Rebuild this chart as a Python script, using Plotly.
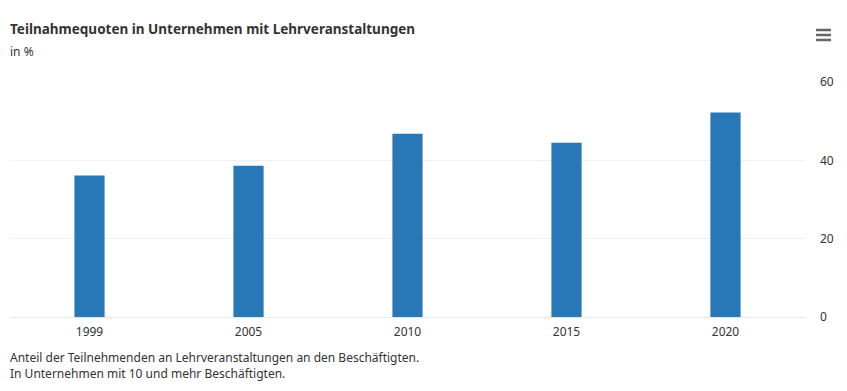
import plotly.graph_objects as go

years = ["1999", "2005", "2010", "2015", "2020"]
quotes = [36.1, 38.6, 46.8, 44.5, 52.2]
y_ticks = [0, 20, 40, 60]

title_text = "Teilnahmequoten in Unternehmen mit Lehrveranstaltungen"
subtitle_text = "in %"
caption_lines = [
    "Anteil der Teilnehmenden an Lehrveranstaltungen an den Beschäftigten.",
    "In Unternehmen mit 10 und mehr Beschäftigten.",
]

FONT = "Noto Sans"
ML, MR, MT, MB = 10, 42, 82, 74
W, H = 847, 391

fig = go.Figure(
    go.Bar(
        x=years,
        y=quotes,
        marker=dict(color="#2878b8", line=dict(width=0)),
        hoverinfo="x+y",
    )
)

fig.update_layout(
    width=W,
    height=H,
    margin=dict(l=ML, r=MR, t=MT, b=MB, autoexpand=False),
    paper_bgcolor="white",
    plot_bgcolor="white",
    bargap=0.81,
    showlegend=False,
    font=dict(family=FONT, size=12, color="#333333"),
    xaxis=dict(
        type="category",
        showgrid=False,
        showline=True,
        linecolor="#e6e6e6",
        linewidth=1,
        ticks="",
        ticklabelstandoff=4,
        tickfont=dict(size=12, color="#333333"),
        fixedrange=True,
    ),
    yaxis=dict(
        side="right",
        range=[0, 60],
        tickvals=y_ticks,
        showgrid=True,
        gridcolor="#f0f0f0",
        gridwidth=1,
        zeroline=False,
        ticks="",
        ticklabelstandoff=14,
        tickfont=dict(size=12, color="#333333"),
        fixedrange=True,
    ),
    annotations=[
        dict(
            text="<b>" + title_text + "</b>",
            xref="paper", yref="paper", x=-0.002, y=1, yshift=42,
            xanchor="left", yanchor="bottom", showarrow=False,
            font=dict(family=FONT, size=13.5, color="#333333"),
        ),
        dict(
            text=subtitle_text,
            xref="paper", yref="paper", x=-0.002, y=1, yshift=20,
            xanchor="left", yanchor="bottom", showarrow=False,
            font=dict(family=FONT, size=12, color="#333333"),
        ),
        dict(
            text="<br>".join(caption_lines),
            xref="paper", yref="paper", x=-0.003, y=0, yshift=-30,
            xanchor="left", yanchor="top", showarrow=False, align="left",
            font=dict(family=FONT, size=12, color="#333333"),
        ),
    ],
)

# hamburger menu icon
plot_w = W - ML - MR
plot_h = H - MT - MB
for py in [30, 35, 40]:
    yp = (H - MB - py) / plot_h
    fig.add_shape(
        type="line", xref="paper", yref="paper",
        x0=(816 - ML) / plot_w, x1=(831 - ML) / plot_w,
        y0=yp, y1=yp,
        line=dict(color="#666666", width=2.5),
    )

fig.write_html(
    "out.html",
    config={"displayModeBar": False},
    post_script="document.body.style.margin='0px';document.body.style.overflow='hidden';",
)
